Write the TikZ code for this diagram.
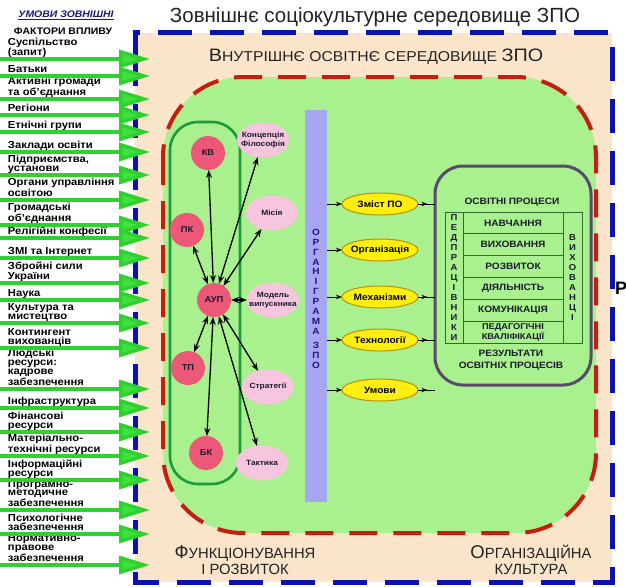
\documentclass[tikz,border=0pt]{standalone}
\usepackage{fontspec}
\setmainfont{Liberation Sans}
\newfontfamily\wide[FakeStretch=1.1]{Liberation Sans}
\usetikzlibrary{arrows.meta,decorations.markings,shapes.geometric}
\definecolor{beige}{HTML}{FAE5CA}
\definecolor{lgreen}{HTML}{A9F08F}
\definecolor{bluel}{HTML}{0A12B0}
\definecolor{redl}{HTML}{C41E10}
\definecolor{stadc}{HTML}{1F9A3A}
\definecolor{circc}{HTML}{EE5878}
\definecolor{pinkl}{HTML}{F7C6DE}
\definecolor{lav}{HTML}{A8A5F2}
\definecolor{yell}{HTML}{FFEE10}
\definecolor{ygold}{HTML}{B8920A}
\definecolor{boxc}{HTML}{5A4B6C}
\definecolor{tline}{HTML}{2F6A2F}
\definecolor{gline}{HTML}{30D030}
\definecolor{ghead}{HTML}{3EE23E}
\definecolor{navy}{HTML}{1A1A7A}
\definecolor{ink}{HTML}{1A1A2E}
\definecolor{ink2}{HTML}{222222}
\begin{document}
\begin{tikzpicture}[x=1pt,y=-1pt,
 every node/.style={inner sep=0pt,outer sep=0pt},
 lab/.style={anchor=south west,align=left,font=\wide\bfseries\fontsize{10.2}{9}\selectfont,text=black},
 garrow/.style={draw=gline,line width=3.5pt,-{Triangle[length=31pt,width=18pt,fill=ghead]}},
 circn/.style={circle,fill=circc,minimum size=34pt,font=\wide\bfseries\fontsize{8.5}{9}\selectfont,text=ink},
 pell/.style={ellipse,fill=pinkl,minimum width=52pt,minimum height=35pt},
 ptxt/.style={align=center,font=\wide\bfseries\fontsize{7.6}{8.4}\selectfont,text=ink},
 yel/.style={ellipse,draw=ygold,line width=1pt,fill=yell,minimum width=76pt,minimum height=22pt},
 ytxt/.style={font=\wide\bfseries\fontsize{9.2}{10}\selectfont,text=black},
 bi/.style={{Stealth[length=8pt,width=6pt]}-{Stealth[length=8pt,width=6pt]},line width=1.3pt},
 sm/.style={line width=0.9pt,-{Stealth[length=6pt,width=4.5pt]}},
 mk/.style={line width=0.9pt,postaction={decorate},decoration={markings,mark=at position 0.55 with {\arrow{Stealth[length=6pt,width=4.5pt]}}}},
 cell/.style={draw=tline,line width=0.9pt,minimum width=100pt,minimum height=21.83pt,align=center,font=\wide\bfseries\fontsize{9.2}{8.4}\selectfont,text=ink},
 vcol/.style={draw=tline,line width=0.9pt,minimum height=131pt,align=center,font=\wide\bfseries\fontsize{8.6}{10}\selectfont,text=ink},
 ptitle/.style={align=center,font=\wide\bfseries\fontsize{9.2}{12}\selectfont,text=ink},
 scap/.style={align=center,text=ink2,font=\fontsize{14.8}{16}\selectfont}
]
\useasboundingbox (0,0) rectangle (626,586);
\fill[white] (0,0) rectangle (626,586);
% outer environment
\fill[beige] (135,33) rectangle (612,582);
\draw[bluel,line width=5pt,dash pattern=on 34pt off 18pt,line join=miter] (135,62) -- (135,33) -- (612,33) -- (612,582) -- (135,582) -- cycle;
% inner environment
\draw[redl,line width=4pt,dash pattern=on 28pt off 16pt,fill=lgreen,rounded corners=80pt] (163,77) rectangle (596,533);
% titles
\node[anchor=base,font=\fontsize{20.5}{22}\selectfont,text=ink2] (t1) at (375,22.5) {Зовнішнє соціокультурне середовище ЗПО};
\node[anchor=base,text=ink2] (t2) at (376,62) {\wide{\fontsize{18}{20}\selectfont В}{\fontsize{14.3}{16}\selectfont НУТРІШНЄ ОСВІТНЄ СЕРЕДОВИЩЕ }{\fontsize{18}{20}\selectfont ЗПО}};
% left header
\node[font=\wide\bfseries\itshape\fontsize{9.5}{10}\selectfont,text=navy] (h1) at (66,15) {\underline{УМОВИ ЗОВНІШНІ}};
\node[font=\wide\bfseries\fontsize{9.5}{10}\selectfont,text=black] (h2) at (63,31) {ФАКТОРИ ВПЛИВУ};
% left labels
\node[lab,font=\wide\bfseries\fontsize{10.2}{9.8}\selectfont] (f1) at (8,58) {Суспільство\\(запит)\strut};
\node[lab] (f2) at (8,75) {Батьки\strut};
\node[lab] (f3) at (8,98) {Активні громади\\та об’єднання\strut};
\node[lab] (f4) at (8,114) {Регіони\strut};
\node[lab] (f5) at (8,131) {Етнічні групи\strut};
\node[lab] (f6) at (8,151) {Заклади освіти\strut};
\node[lab] (f7) at (8,174) {Підприємства,\\установи\strut};
\node[lab] (f8) at (8,199) {Органи управління\\освітою\strut};
\node[lab] (f9) at (8,224) {Громадські\\об’єднання\strut};
\node[lab] (f10) at (8,237) {Релігійні конфесії\strut};
\node[lab] (f11) at (8,257) {ЗМІ та Інтернет\strut};
\node[lab] (f12) at (8,282) {Збройні сили\\України\strut};
\node[lab] (f13) at (8,299) {Наука\strut};
\node[lab] (f14) at (8,322) {Культура та\\мистецтво\strut};
\node[lab] (f15) at (8,347) {Контингент\\вихованців\strut};
\node[lab,font=\wide\bfseries\fontsize{10.2}{9.3}\selectfont] (f16) at (8,388) {Людські\\ресурси:\\кадрове\\забезпечення\strut};
\node[lab] (f17) at (8,407) {Інфраструктура\strut};
\node[lab] (f18) at (8,431) {Фінансові\\ресурси\strut};
\node[lab] (f19) at (8,455) {Матеріально-\\технічні ресурси\strut};
\node[lab] (f20) at (8,479) {Інформаційні\\ресурси\strut};
\node[lab,font=\wide\bfseries\fontsize{10.2}{8.8}\selectfont] (f21) at (8,509) {Програмно-\\методичне\\забезпечення\strut};
\node[lab] (f22) at (8,533) {Психологічне\\забезпечення\strut};
\node[lab,font=\wide\bfseries\fontsize{10.2}{8.8}\selectfont] (f23) at (8,564) {Нормативно-\\правове\\забезпечення\strut};
\foreach \yy [count=\i] in {59,76,99,115,132,152,175,200,225,238,258,283,300,323,348,389,408,432,456,480,510,534,565}{
  \coordinate (s\i) at (0,\yy);
  \coordinate (e\i) at (150,\yy);
  \draw[garrow] (s\i) -- (e\i);
}
% management stadium
\node[draw=stadc,line width=2.6pt,rounded corners=28pt,minimum width=70pt,minimum height=362pt] (stad) at (205,303) {};
\node[circn] (kv) at (208,153) {КВ};
\node[circn] (pk) at (187,230) {ПК};
\node[circn] (aup) at (214,300) {АУП};
\node[circn] (tp) at (188,368) {ТП};
\node[circn] (bk) at (206,453) {БК};
\node[pell] (conc) at (263,140) {};
\node[ptxt] (conct) at (conc) {Концепція\\Філософія};
\node[pell] (mis) at (272,213) {};
\node[ptxt] (mist) at (mis) {Місія};
\node[pell] (mod) at (273,300) {};
\node[ptxt] (modt) at (mod) {Модель\\випускника};
\node[pell] (str) at (268,387) {};
\node[ptxt] (strt) at (str) {Стратегії};
\node[pell] (tak) at (262,463) {};
\node[ptxt] (takt) at (tak) {Тактика};
\draw[bi] (aup) -- (kv);
\draw[bi] (aup) -- (pk);
\draw[bi] (aup) -- (conc);
\draw[bi] (aup) -- (mis);
\draw[bi] (aup) -- (mod);
\draw[bi] (aup) -- (str);
\draw[bi] (aup) -- (tak);
\draw[bi] (aup) -- (tp);
\draw[bi] (aup) -- (bk);
% organigram bar
\node[fill=lav,minimum width=22pt,minimum height=392pt] (org) at (316,306) {};
\node[align=center,text=navy,font=\wide\bfseries\fontsize{9}{9.85}\selectfont] (orgt) at (316,299) {О\\Р\\Г\\А\\Н\\І\\Г\\Р\\А\\М\\А\\[5pt]З\\П\\О};
% yellow
\node[yel] (y1) at (380,204) {};
\node[ytxt] (y1t) at (y1) {Зміст ПО};
\node[yel] (y2) at (380,250) {};
\node[ytxt] (y2t) at (y2) {Організація};
\node[yel] (y3) at (380,297) {};
\node[ytxt] (y3t) at (y3) {Механізми};
\node[yel] (y4) at (380,340) {};
\node[ytxt] (y4t) at (y4) {Технології};
\node[yel] (y5) at (380,390) {};
\node[ytxt] (y5t) at (y5) {Умови};
% processes box
\node[draw=boxc,line width=3pt,rounded corners=28pt,minimum width=156pt,minimum height=219pt] (proc) at (513,275.5) {};
\foreach \n in {y1,y2,y3,y4,y5}{\draw[sm] (org.east |- \n) -- (\n.west);}
\foreach \n in {y1,y3,y4,y5}{\draw[mk] (\n.east) -- (\n.east -| proc.west);}
\node[ptitle] (pt1) at (512,202) {ОСВІТНІ ПРОЦЕСИ};
\node[cell] (r1) at (513,222.9) {НАВЧАННЯ};
\node[cell] (r2) at (513,244.7) {ВИХОВАННЯ};
\node[cell] (r3) at (513,266.6) {РОЗВИТОК};
\node[cell] (r4) at (513,288.4) {ДІЯЛЬНІСТЬ};
\node[cell] (r5) at (513,310.3) {КОМУНІКАЦІЯ};
\node[cell,font=\wide\bfseries\fontsize{8.4}{8}\selectfont] (r6) at (513,332.1) {ПЕДАГОГІЧНІ\\КВАЛІФІКАЦІЇ};
\node[vcol,minimum width=18pt] (lc) at (454,277.5) {П\\Е\\Д\\П\\Р\\А\\Ц\\І\\В\\Н\\И\\К\\И};
\node[vcol,minimum width=19pt] (rc) at (572.5,277.5) {В\\И\\Х\\О\\В\\А\\Н\\Ц\\І};
\node[ptitle] (pt2) at (511,360) {РЕЗУЛЬТАТИ\\ОСВІТНІХ ПРОЦЕСІВ};
% bottom captions
\node[scap] (fr) at (245,560) {{\fontsize{18.5}{16}\selectfont Ф}УНКЦІОНУВАННЯ\\І РОЗВИТОК};
\node[scap] (ok) at (531,560) {{\fontsize{18.5}{16}\selectfont О}РГАНІЗАЦІЙНА\\КУЛЬТУРА};
\node[anchor=west,font=\bfseries\fontsize{18}{18}\selectfont,text=black] (pr) at (615,288) {Р};
\end{tikzpicture}
\end{document}
